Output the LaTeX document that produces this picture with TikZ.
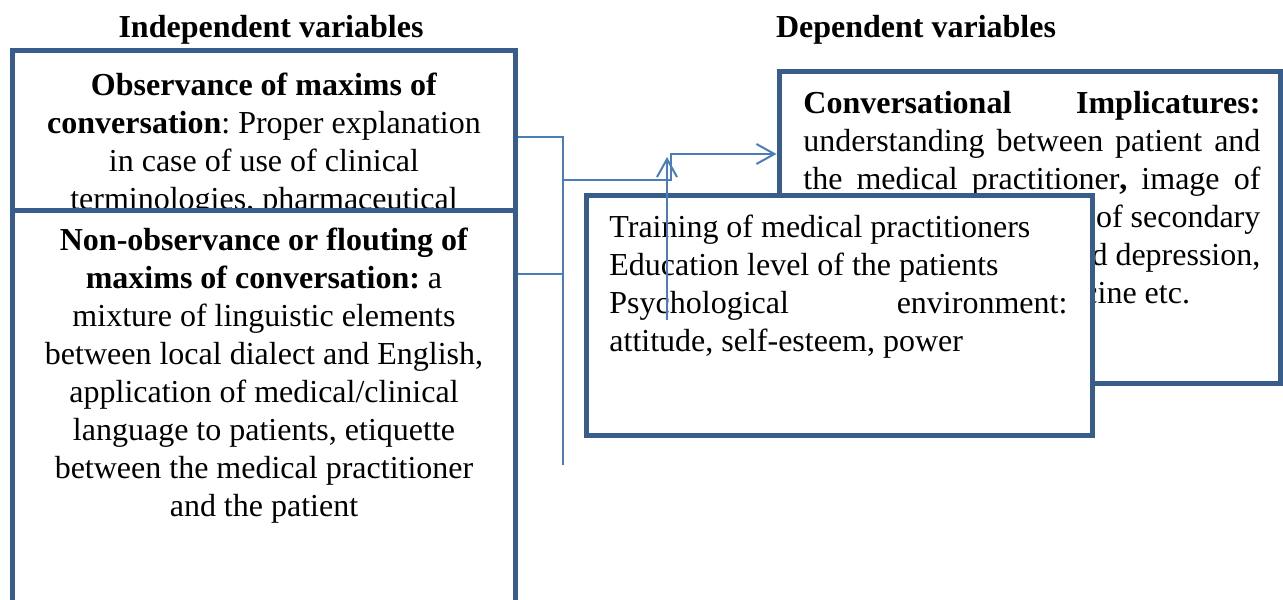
\documentclass[tikz,border=0pt]{standalone}
\usepackage{fontspec}
\setmainfont{Liberation Serif}
\usetikzlibrary{arrows.meta}
\definecolor{boxblue}{RGB}{56,93,138}
\definecolor{linkblue}{RGB}{74,126,187}
\setlength{\parindent}{0pt}
\frenchspacing
\newcommand{\fullline}[2]{\makebox[#1][s]{#2}}

\begin{document}
\begin{tikzpicture}[x=0.5pt, y=-0.5pt,
    font=\fontsize{16}{19}\selectfont,
    varbox/.style={draw=boxblue, line width=2.5pt, fill=white, inner sep=0pt},
    head/.style={font=\fontsize{16}{19}\selectfont\bfseries, anchor=base},
    midtext/.style={anchor=base, align=flush center, text width=240pt, inner sep=0pt},
    sidetext/.style={anchor=base west, align=flush left, text width=229pt, inner sep=0pt},
    link/.style={draw=linkblue, line width=1pt},
    tip/.style={-{Straight Barb[length=9pt, width=10pt, line width=1pt]}}]
    \useasboundingbox (0,0) rectangle (1283,599);

    % Headings
    \node[head] (indep) at (271,38) {Independent variables};
    \node[head] (dep) at (916,38) {Dependent variables};

    % Independent variables
    \node[varbox, minimum width=251.5pt, minimum height=184.5pt] (obs) at (263.5,235.5) {};
    \node[midtext] (obstext) at (264,96) {\textbf{Observance of maxims of}\\
        \textbf{conversation}: Proper explanation\\
        in case of use of clinical\\
        terminologies, pharmaceutical};
    \node[varbox, minimum width=251.5pt, minimum height=215pt] (nonobs) at (263.5,425) {};
    \node[midtext] (nonobstext) at (264,250) {\textbf{Non-observance or flouting of}\\
        \textbf{maxims of conversation:} a\\
        mixture of linguistic elements\\
        between local dialect and English,\\
        application of medical/clinical\\
        language to patients, etiquette\\
        between the medical practitioner\\
        and the patient};

    % Dependent variable
    \node[varbox, minimum width=250.5pt, minimum height=155.5pt] (impl) at (1029.5,227.5) {};
    \node[sidetext, text width=228.5pt] (impltext) at (803,113) {%
        \makebox[228.5pt]{\bfseries Conversational\hfill Implicatures:}\\
        \fullline{228.5pt}{understanding between patient and}\\
        \fullline{228.5pt}{the medical practitioner\textbf{,} image of}\\
        \hfill of secondary\\
        \hfill and depression,\\
        \hspace*{108pt}medicine etc.};

    % Connectors
    \coordinate (bustop) at (563,137);
    \coordinate (busmid) at (563,274);
    \coordinate (busend) at (563,465);
    \coordinate (join) at (563,180);
    \coordinate (bend) at (671,154);
    \coordinate (modfoot) at (667,320);
    \draw[link] (obs.east |- bustop) -- (bustop) -- (busend);
    \draw[link] (nonobs.east |- busmid) -- (busmid);
    \draw[link, tip] (join) -| (bend) -- (impl.west |- bend);

    % Moderating variables
    \node[varbox, minimum width=253pt, minimum height=120pt] (mod) at (839,315) {};
    \node[sidetext] (modtext) at (609,237) {Training of medical practitioners\\
        Education level of the patients\\
        \makebox[229pt]{Psychological\hfill environment:}\\
        attitude, self-esteem, power};
    \draw[link, tip] (modfoot) -- ([yshift=-1.5pt]modfoot |- bend);
\end{tikzpicture}
\end{document}
